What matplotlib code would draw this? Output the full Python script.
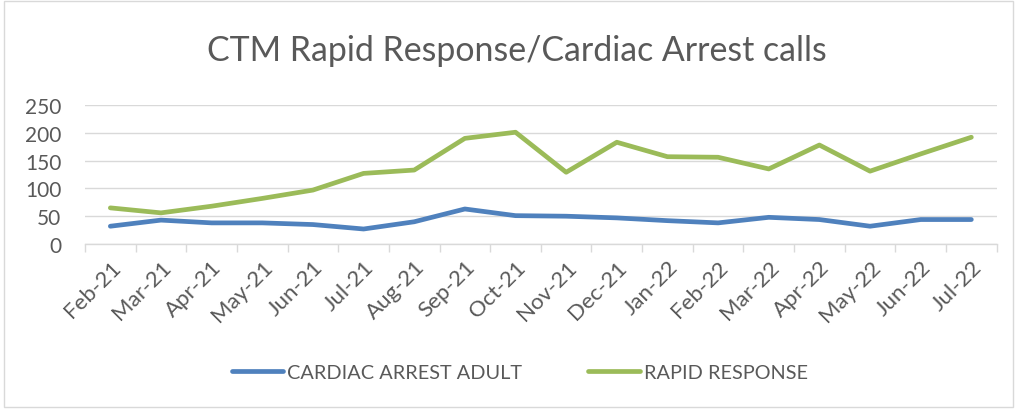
import matplotlib
matplotlib.use("Agg")
import matplotlib.pyplot as plt
from matplotlib.patches import Rectangle

plt.rcParams['font.family'] = ['Lato', 'DejaVu Sans']

months = ['Feb-21', 'Mar-21', 'Apr-21', 'May-21', 'Jun-21', 'Jul-21', 'Aug-21',
          'Sep-21', 'Oct-21', 'Nov-21', 'Dec-21', 'Jan-22', 'Feb-22', 'Mar-22',
          'Apr-22', 'May-22', 'Jun-22', 'Jul-22']
cardiac_arrest = [32, 43, 38, 38, 35, 27, 40, 63, 51, 50, 47, 42, 38, 48, 44, 32, 44, 44]
rapid_response = [65, 56, 68, 82, 97, 127, 133, 190, 201, 129, 183, 157, 156, 135,
                  178, 131, 162, 192]

text_col = '#595959'
grid_col = '#d9d9d9'

fig = plt.figure(figsize=(10.17, 4.10), dpi=100)
fig.patches.append(Rectangle((0.004, 0.004), 0.992, 0.992, transform=fig.transFigure,
                             fill=False, edgecolor=grid_col, linewidth=1))

ax = fig.add_axes([0.0836, 0.4024, 0.8964, 0.3391])
x = range(len(months))
ax.plot(x, cardiac_arrest, color='#4f81bd', linewidth=3.4, solid_capstyle='round',
        label='CARDIAC ARREST ADULT')
ax.plot(x, rapid_response, color='#9bbb59', linewidth=3.4, solid_capstyle='round',
        label='RAPID RESPONSE')

ax.set_xlim(-0.5, len(months) - 0.5)
ax.set_ylim(0, 250)
ax.set_yticks([0, 50, 100, 150, 200, 250])
ax.grid(axis='y', color=grid_col, linewidth=1)
ax.set_axisbelow(True)
for s in ['top', 'right', 'left']:
    ax.spines[s].set_visible(False)
ax.spines['bottom'].set_color(grid_col)
ax.spines['bottom'].set_linewidth(1)

# ticks on category boundaries, labels at category centres
ax.set_xticks([i - 0.5 for i in range(len(months) + 1)])
ax.set_xticklabels([])
ax.set_xticks(list(x), minor=True)
ax.set_xticklabels(months, minor=True, rotation=45, ha='right',
                   rotation_mode='anchor', fontsize=16, color=text_col)
ax.tick_params(axis='x', which='major', length=6, color=grid_col, width=1)
ax.tick_params(axis='x', which='minor', length=0, pad=9)
ax.tick_params(axis='y', length=0, labelsize=15, labelcolor=text_col, pad=17)

fig.text(0.508, 0.875, 'CTM Rapid Response/Cardiac Arrest calls', ha='center',
         va='center', fontsize=24.4, color=text_col)

fig.legend(loc='center', bbox_to_anchor=(0.511, 0.09), ncol=2, frameon=False,
           fontsize=14.3, handlelength=2.6, columnspacing=3.3, handletextpad=0.2,
           labelcolor=text_col)

fig.savefig('out.png', dpi=100)
